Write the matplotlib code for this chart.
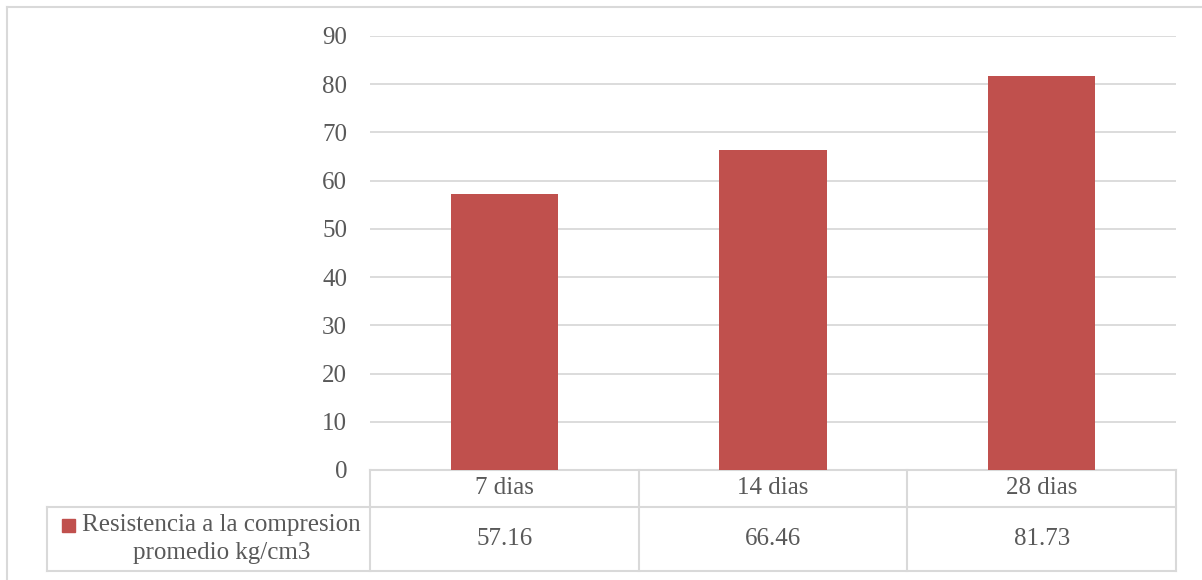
import matplotlib.pyplot as plt
from matplotlib.transforms import blended_transform_factory
from matplotlib.patches import Rectangle

# Data
categories = ["7 dias", "14 dias", "28 dias"]
values = [57.16, 66.46, 81.73]
value_labels = ["57.16", "66.46", "81.73"]
series_name = "Resistencia a la compresion\npromedio kg/cm3"

bar_color = "#C0504D"
grid_color = "#D9D9D9"
text_color = "#595959"

plt.rcParams["font.family"] = ["Liberation Serif", "DejaVu Serif"]
plt.rcParams["font.size"] = 18

W, H = 1202, 580
fig = plt.figure(figsize=(W / 100, H / 100), dpi=100)

# Plot area in pixels: x 370..1176, y 36..470
ax = fig.add_axes([370 / W, (H - 470) / H, 806 / W, 434 / H])

x = range(len(categories))
ax.bar(x, values, width=0.4, color=bar_color, zorder=3)

ax.set_xlim(-0.5, len(categories) - 0.5)
ax.set_ylim(0, 90)
ax.set_yticks(range(0, 91, 10))
ax.set_xticks([])
ax.yaxis.grid(True, color=grid_color, linewidth=1.3)
ax.set_axisbelow(True)
ax.tick_params(axis="y", length=0, pad=16.5, labelcolor=text_color, labelsize=18)
for s in ax.spines.values():
    s.set_visible(False)

# Data table below the plot
tr = blended_transform_factory(ax.transData, ax.transAxes)
px = 1 / 434  # one pixel in axes fraction (vertical)
y_top = 0
y_mid = -37 * px
y_bot = -101 * px
x_leg = -0.5 - (370 - 47) / (806 / 3)
x_right = len(categories) - 0.5

line_kw = dict(transform=tr, color=grid_color, linewidth=1.5, clip_on=False)
ax.plot([-0.5, x_right], [y_top, y_top], **line_kw)
ax.plot([x_leg, x_right], [y_mid, y_mid], **line_kw)
ax.plot([x_leg, x_right], [y_bot, y_bot], **line_kw)
ax.plot([x_leg, x_leg], [y_mid, y_bot], **line_kw)
for i in range(len(categories) + 1):
    ax.plot([i - 0.5, i - 0.5], [y_top, y_bot], **line_kw)

for i, (c, v) in enumerate(zip(categories, value_labels)):
    ax.text(i, (y_top + y_mid) / 2, c, transform=tr, ha="center", va="center",
            color=text_color, fontsize=18)
    ax.text(i, (y_mid + y_bot) / 2, v, transform=tr, ha="center", va="center",
            color=text_color, fontsize=18)

# Legend cell
leg_cx = x_leg + (-0.5 - x_leg) * 0.54
ax.text(leg_cx, (y_mid + y_bot) / 2, series_name, transform=tr, ha="center",
        va="center", color=text_color, fontsize=18, linespacing=1.4)
ax.add_patch(Rectangle((x_leg + 15 / (806 / 3), -62 * px), 13 / (806 / 3), 13 * px,
                       transform=tr, color=bar_color, clip_on=False))

# Chart outer border (left and top visible)
fig.add_artist(plt.Line2D([7 / W, 7 / W], [0, 1 - 7 / H], transform=fig.transFigure,
                          color=grid_color, linewidth=1.5))
fig.add_artist(plt.Line2D([7 / W, 1], [1 - 7 / H, 1 - 7 / H], transform=fig.transFigure,
                          color=grid_color, linewidth=1.5))

plt.savefig("out.png", dpi=100)
